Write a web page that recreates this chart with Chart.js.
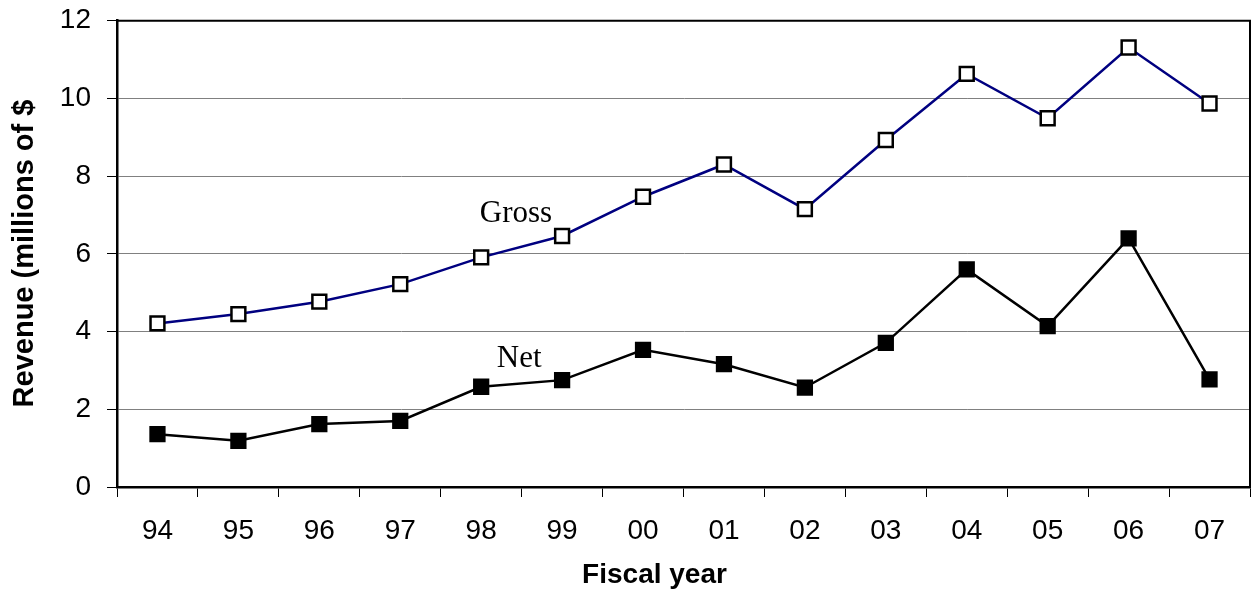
<!DOCTYPE html>
<html>
<head>
<meta charset="utf-8">
<script src="https://cdn.jsdelivr.net/npm/chart.js@4"></script>
<style>
  html, body { margin: 0; padding: 0; background: #fff; }
  #wrap { width: 1256px; height: 595px; }
</style>
</head>
<body>
<div id="wrap"><canvas id="c" width="1256" height="595"></canvas></div>
<script>
const years = ['94','95','96','97','98','99','00','01','02','03','04','05','06','07'];
const gross = [4.21, 4.45, 4.77, 5.22, 5.91, 6.46, 7.47, 8.30, 7.15, 8.93, 10.63, 9.49, 11.31, 9.87];
const net   = [1.36, 1.19, 1.62, 1.70, 2.58, 2.75, 3.53, 3.16, 2.56, 3.71, 5.60, 4.14, 6.40, 2.77];
const yTicks = [0, 2, 4, 6, 8, 10, 12];
const yTitle = 'Revenue (millions of $';
const xTitle = 'Fiscal year';
const seriesLabels = [
  { text: 'Gross', x: 4.43, y: 6.83 },
  { text: 'Net',   x: 4.47, y: 3.08 }
];

const SANS = '"Liberation Sans", Arial, sans-serif';
const SERIF = '"Liberation Serif", "Times New Roman", serif';

const decor = {
  id: 'decor',
  afterDraw(chart) {
    const { ctx, chartArea: a, scales } = chart;
    ctx.save();
    ctx.strokeStyle = '#000';
    ctx.lineWidth = 2;
    ctx.beginPath();
    ctx.moveTo(a.left, a.top);
    ctx.lineTo(a.right, a.top);
    ctx.lineTo(a.right, a.bottom);
    ctx.stroke();
    ctx.fillStyle = '#000';
    ctx.font = '31px ' + SERIF;
    ctx.textAlign = 'center';
    ctx.textBaseline = 'alphabetic';
    seriesLabels.forEach(l => {
      ctx.fillText(l.text, scales.x.getPixelForValue(l.x), scales.y.getPixelForValue(l.y));
    });
    ctx.textBaseline = 'middle';
    ctx.font = 'bold 28px ' + SANS;
    ctx.fillText(xTitle, 654.5, 575);
    ctx.font = 'bold 29px ' + SANS;
    ctx.translate(25, 253.5);
    ctx.rotate(-Math.PI / 2);
    ctx.fillText(yTitle, 0, 0);
    ctx.restore();
  }
};

new Chart(document.getElementById('c'), {
  type: 'line',
  data: {
    labels: years,
    datasets: [
      {
        label: 'Gross',
        data: gross,
        borderColor: '#000080',
        borderWidth: 2.5,
        pointStyle: 'rect',
        pointRadius: 9.8,
        pointBackgroundColor: '#fff',
        pointBorderColor: '#000',
        pointBorderWidth: 2.5,
        tension: 0
      },
      {
        label: 'Net',
        data: net,
        borderColor: '#000',
        borderWidth: 2.5,
        pointStyle: 'rect',
        pointRadius: 11.5,
        pointBackgroundColor: '#000',
        pointBorderColor: '#000',
        pointBorderWidth: 0,
        tension: 0
      }
    ]
  },
  options: {
    responsive: false,
    animation: false,
    devicePixelRatio: 1,
    layout: { autoPadding: false, padding: { top: 20.7, right: 6, left: 0, bottom: 0 } },
    plugins: {
      legend: { display: false },
      tooltip: { enabled: false }
    },
    scales: {
      x: {
        offset: true,
        grid: {
          offset: true,
          drawOnChartArea: false,
          drawTicks: true,
          tickLength: 10,
          color: '#000',
          lineWidth: 1
        },
        border: { color: '#000', width: 2.5 },
        ticks: {
          color: '#000',
          font: { family: SANS, size: 28 },
          padding: 17,
          maxRotation: 0,
          autoSkip: false
        },
        afterFit(s) { s.height = 108; s.paddingLeft = 0; s.paddingRight = 0; }
      },
      y: {
        min: 0,
        max: 12,
        afterBuildTicks(s) { s.ticks = yTicks.map(v => ({ value: v })); },
        grid: {
          color: '#808080',
          lineWidth: 1,
          tickLength: 10,
          tickColor: '#000'
        },
        border: { color: '#000', width: 2.5 },
        ticks: {
          color: '#000',
          font: { family: SANS, size: 28 },
          padding: 16
        },
        afterFit(s) { s.width = 117; s.paddingTop = 0; s.paddingBottom = 0; }
      }
    }
  },
  plugins: [decor]
});
</script>
</body>
</html>
